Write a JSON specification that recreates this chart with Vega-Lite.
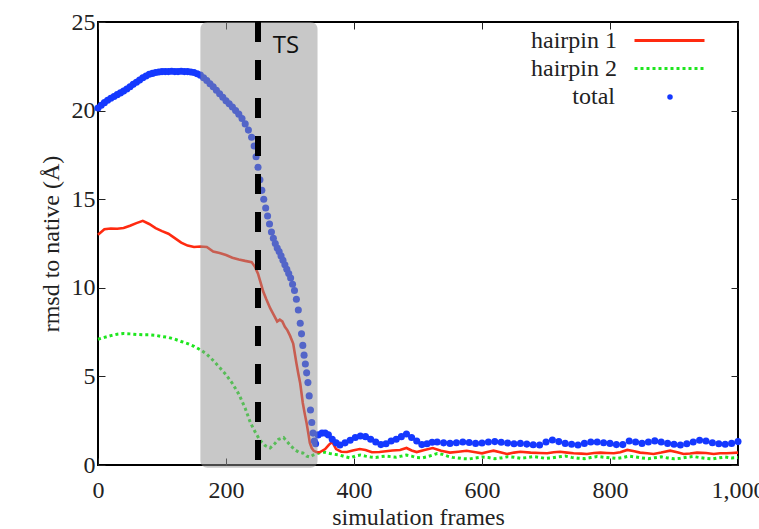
{
  "$schema": "https://vega.github.io/schema/vega-lite/v6.json",
  "width": 640,
  "height": 443,
  "autosize": {"type": "none"},
  "padding": {"left": 98, "top": 22, "right": 21, "bottom": 64},
  "background": "white",
  "config": {
    "view": {"stroke": "black", "strokeWidth": 2},
    "font": "Liberation Serif, Times New Roman, DejaVu Serif, serif",
    "axis": {
      "grid": false,
      "domain": false,
      "labelFont": "Liberation Serif, Times New Roman, DejaVu Serif, serif",
      "labelFontSize": 24,
      "labelColor": "#222222",
      "titleFont": "Liberation Serif, Times New Roman, DejaVu Serif, serif",
      "titleFontSize": 24,
      "titleFontWeight": "normal",
      "titleColor": "#222222",
      "tickColor": "#222222",
      "tickSize": -7,
      "tickWidth": 1
    },
    "legend": {
      "title": null,
      "orient": "none",
      "padding": 0,
      "labelFont": "Liberation Serif, Times New Roman, DejaVu Serif, serif",
      "labelFontSize": 24,
      "labelColor": "#222222",
      "labelAlign": "right"
    }
  },
  "datasets": {
    "h1": [
      {"f":0,"v":13.0},{"f":10,"v":13.3},{"f":20,"v":13.35},{"f":30,"v":13.33},{"f":40,"v":13.37},{"f":50,"v":13.5},{"f":60,"v":13.65},{"f":70,"v":13.78},{"f":80,"v":13.6},{"f":90,"v":13.37},{"f":100,"v":13.2},{"f":110,"v":13.05},{"f":120,"v":12.8},{"f":130,"v":12.55},{"f":140,"v":12.38},{"f":150,"v":12.3},{"f":160,"v":12.33},{"f":170,"v":12.3},{"f":180,"v":12.05},{"f":190,"v":11.96},{"f":200,"v":11.85},{"f":210,"v":11.7},{"f":220,"v":11.6},{"f":230,"v":11.52},{"f":240,"v":11.45},{"f":245,"v":11.2},{"f":250,"v":10.8},{"f":254,"v":10.3},{"f":258,"v":9.8},{"f":263,"v":9.35},{"f":269,"v":8.85},{"f":275,"v":8.45},{"f":280,"v":8.1},{"f":284,"v":8.2},{"f":288,"v":8.1},{"f":292,"v":7.8},{"f":296,"v":7.6},{"f":300,"v":7.3},{"f":305,"v":6.85},{"f":310,"v":5.75},{"f":313,"v":5.15},{"f":316,"v":4.6},{"f":320,"v":3.5},{"f":323,"v":2.9},{"f":326,"v":2.35},{"f":329,"v":1.7},{"f":331,"v":1.24},{"f":334,"v":0.95},{"f":337,"v":0.8},{"f":342,"v":0.72},{"f":347,"v":0.73},{"f":355,"v":0.9},{"f":361,"v":1.15},{"f":366,"v":1.3},{"f":372,"v":0.9},{"f":380,"v":0.75},{"f":389,"v":0.73},{"f":398,"v":0.82},{"f":409,"v":0.9},{"f":418,"v":0.85},{"f":428,"v":0.72},{"f":440,"v":0.73},{"f":450,"v":0.78},{"f":460,"v":0.82},{"f":472,"v":0.85},{"f":482,"v":0.96},{"f":490,"v":0.82},{"f":498,"v":0.73},{"f":510,"v":0.85},{"f":523,"v":0.96},{"f":536,"v":0.8},{"f":550,"v":0.7},{"f":563,"v":0.75},{"f":576,"v":0.8},{"f":590,"v":0.72},{"f":600,"v":0.66},{"f":610,"v":0.75},{"f":618,"v":0.81},{"f":630,"v":0.7},{"f":639,"v":0.62},{"f":650,"v":0.7},{"f":660,"v":0.75},{"f":676,"v":0.7},{"f":690,"v":0.68},{"f":702,"v":0.66},{"f":712,"v":0.72},{"f":722,"v":0.75},{"f":733,"v":0.7},{"f":743,"v":0.66},{"f":755,"v":0.64},{"f":764,"v":0.62},{"f":775,"v":0.68},{"f":785,"v":0.7},{"f":795,"v":0.68},{"f":806,"v":0.66},{"f":816,"v":0.72},{"f":827,"v":0.85},{"f":838,"v":0.78},{"f":847,"v":0.7},{"f":858,"v":0.66},{"f":868,"v":0.62},{"f":880,"v":0.7},{"f":894,"v":0.81},{"f":905,"v":0.72},{"f":915,"v":0.62},{"f":925,"v":0.65},{"f":936,"v":0.7},{"f":950,"v":0.68},{"f":962,"v":0.62},{"f":972,"v":0.66},{"f":982,"v":0.66},{"f":990,"v":0.68},{"f":1000,"v":0.7}
    ],
    "h2": [
      {"f":0,"v":7.1},{"f":10,"v":7.2},{"f":20,"v":7.3},{"f":30,"v":7.38},{"f":40,"v":7.42},{"f":50,"v":7.4},{"f":60,"v":7.37},{"f":70,"v":7.35},{"f":80,"v":7.35},{"f":90,"v":7.32},{"f":100,"v":7.25},{"f":110,"v":7.2},{"f":120,"v":7.1},{"f":130,"v":6.97},{"f":140,"v":6.85},{"f":150,"v":6.7},{"f":160,"v":6.5},{"f":170,"v":6.25},{"f":180,"v":5.9},{"f":190,"v":5.5},{"f":200,"v":5.1},{"f":210,"v":4.6},{"f":220,"v":4.0},{"f":230,"v":3.2},{"f":238,"v":2.4},{"f":245,"v":1.9},{"f":253,"v":1.4},{"f":261,"v":1.1},{"f":269,"v":0.96},{"f":276,"v":1.2},{"f":282,"v":1.45},{"f":290,"v":1.55},{"f":296,"v":1.3},{"f":302,"v":1.05},{"f":308,"v":0.85},{"f":314,"v":0.72},{"f":320,"v":0.68},{"f":326,"v":0.5},{"f":331,"v":0.45},{"f":336,"v":0.56},{"f":341,"v":0.62},{"f":347,"v":0.7},{"f":354,"v":0.72},{"f":362,"v":0.65},{"f":370,"v":0.6},{"f":378,"v":0.56},{"f":386,"v":0.47},{"f":394,"v":0.4},{"f":402,"v":0.5},{"f":410,"v":0.56},{"f":418,"v":0.5},{"f":426,"v":0.45},{"f":434,"v":0.42},{"f":442,"v":0.47},{"f":450,"v":0.5},{"f":458,"v":0.47},{"f":466,"v":0.44},{"f":474,"v":0.5},{"f":482,"v":0.56},{"f":490,"v":0.5},{"f":498,"v":0.42},{"f":506,"v":0.4},{"f":514,"v":0.46},{"f":522,"v":0.55},{"f":530,"v":0.65},{"f":538,"v":0.6},{"f":546,"v":0.5},{"f":554,"v":0.43},{"f":562,"v":0.4},{"f":570,"v":0.36},{"f":580,"v":0.34},{"f":590,"v":0.4},{"f":600,"v":0.45},{"f":610,"v":0.42},{"f":620,"v":0.36},{"f":630,"v":0.4},{"f":640,"v":0.47},{"f":650,"v":0.44},{"f":660,"v":0.38},{"f":670,"v":0.42},{"f":680,"v":0.48},{"f":690,"v":0.43},{"f":700,"v":0.37},{"f":710,"v":0.4},{"f":720,"v":0.46},{"f":730,"v":0.5},{"f":740,"v":0.43},{"f":750,"v":0.38},{"f":760,"v":0.36},{"f":770,"v":0.42},{"f":780,"v":0.48},{"f":790,"v":0.44},{"f":800,"v":0.4},{"f":810,"v":0.37},{"f":820,"v":0.42},{"f":830,"v":0.5},{"f":840,"v":0.45},{"f":850,"v":0.39},{"f":860,"v":0.36},{"f":870,"v":0.41},{"f":880,"v":0.46},{"f":890,"v":0.4},{"f":900,"v":0.35},{"f":910,"v":0.38},{"f":920,"v":0.44},{"f":930,"v":0.48},{"f":940,"v":0.42},{"f":950,"v":0.37},{"f":960,"v":0.34},{"f":970,"v":0.4},{"f":980,"v":0.45},{"f":990,"v":0.4},{"f":1000,"v":0.42}
    ],
    "tot": [
      {"f":0,"v":20.15},{"f":5,"v":20.3},{"f":10,"v":20.45},{"f":15,"v":20.58},{"f":20,"v":20.7},{"f":25,"v":20.8},{"f":30,"v":20.9},{"f":35,"v":21.0},{"f":40,"v":21.1},{"f":45,"v":21.22},{"f":50,"v":21.35},{"f":55,"v":21.48},{"f":60,"v":21.6},{"f":65,"v":21.72},{"f":70,"v":21.85},{"f":75,"v":21.95},{"f":80,"v":22.05},{"f":85,"v":22.1},{"f":90,"v":22.15},{"f":95,"v":22.18},{"f":100,"v":22.2},{"f":105,"v":22.2},{"f":110,"v":22.2},{"f":115,"v":22.22},{"f":120,"v":22.2},{"f":125,"v":22.2},{"f":130,"v":22.22},{"f":135,"v":22.2},{"f":140,"v":22.2},{"f":145,"v":22.18},{"f":150,"v":22.15},{"f":155,"v":22.08},{"f":160,"v":22.0},{"f":165,"v":21.85},{"f":170,"v":21.7},{"f":175,"v":21.52},{"f":180,"v":21.35},{"f":185,"v":21.15},{"f":190,"v":20.95},{"f":195,"v":20.75},{"f":200,"v":20.55},{"f":205,"v":20.38},{"f":210,"v":20.2},{"f":215,"v":20.0},{"f":220,"v":19.8},{"f":225,"v":19.55},{"f":230,"v":19.25},{"f":235,"v":18.9},{"f":240,"v":18.5},{"f":244,"v":18.0},{"f":247,"v":17.4},{"f":250,"v":16.8},{"f":253,"v":16.1},{"f":256,"v":15.5},{"f":259,"v":15.0},{"f":262,"v":14.5},{"f":265,"v":14.05},{"f":268,"v":13.6},{"f":271,"v":13.15},{"f":274,"v":12.8},{"f":277,"v":12.5},{"f":280,"v":12.25},{"f":283,"v":12.05},{"f":286,"v":11.8},{"f":289,"v":11.55},{"f":292,"v":11.3},{"f":295,"v":11.05},{"f":298,"v":10.8},{"f":301,"v":10.55},{"f":304,"v":10.2},{"f":307,"v":9.85},{"f":310,"v":9.35},{"f":313,"v":8.75},{"f":316,"v":8.0},{"f":318,"v":7.4},{"f":320,"v":6.75},{"f":322,"v":6.2},{"f":324,"v":5.7},{"f":326,"v":5.2},{"f":328,"v":4.65},{"f":330,"v":3.9},{"f":332,"v":3.1},{"f":334,"v":2.4},{"f":336,"v":1.8},{"f":338,"v":1.35},{"f":340,"v":1.2},{"f":344,"v":1.7},{"f":350,"v":1.8},{"f":355,"v":1.8},{"f":360,"v":1.7},{"f":366,"v":1.45},{"f":372,"v":1.25},{"f":378,"v":1.13},{"f":386,"v":1.25},{"f":394,"v":1.4},{"f":402,"v":1.55},{"f":410,"v":1.64},{"f":418,"v":1.6},{"f":426,"v":1.45},{"f":434,"v":1.3},{"f":442,"v":1.15},{"f":450,"v":1.2},{"f":458,"v":1.35},{"f":466,"v":1.45},{"f":474,"v":1.6},{"f":482,"v":1.75},{"f":490,"v":1.55},{"f":498,"v":1.35},{"f":506,"v":1.15},{"f":514,"v":1.2},{"f":522,"v":1.28},{"f":530,"v":1.3},{"f":540,"v":1.25},{"f":550,"v":1.22},{"f":560,"v":1.26},{"f":570,"v":1.3},{"f":580,"v":1.27},{"f":590,"v":1.22},{"f":600,"v":1.24},{"f":610,"v":1.3},{"f":620,"v":1.32},{"f":630,"v":1.28},{"f":640,"v":1.24},{"f":650,"v":1.2},{"f":660,"v":1.22},{"f":670,"v":1.18},{"f":680,"v":1.14},{"f":690,"v":1.13},{"f":700,"v":1.3},{"f":710,"v":1.41},{"f":720,"v":1.32},{"f":730,"v":1.22},{"f":740,"v":1.17},{"f":750,"v":1.13},{"f":760,"v":1.22},{"f":770,"v":1.3},{"f":780,"v":1.3},{"f":790,"v":1.26},{"f":800,"v":1.22},{"f":810,"v":1.15},{"f":820,"v":1.15},{"f":830,"v":1.35},{"f":840,"v":1.3},{"f":850,"v":1.22},{"f":860,"v":1.3},{"f":870,"v":1.36},{"f":880,"v":1.3},{"f":890,"v":1.22},{"f":900,"v":1.17},{"f":910,"v":1.13},{"f":920,"v":1.2},{"f":930,"v":1.3},{"f":940,"v":1.4},{"f":950,"v":1.35},{"f":960,"v":1.26},{"f":970,"v":1.2},{"f":980,"v":1.17},{"f":990,"v":1.22},{"f":1000,"v":1.32}
    ]
  },
  "layer": [
    {
      "data": {"name": "h2"},
      "mark": {"type": "line", "strokeWidth": 3},
      "encoding": {
        "x": {"field": "f", "type": "quantitative", "scale": {"domain": [0, 1000], "nice": false},
              "axis": {"orient": "bottom", "values": [0, 200, 400, 600, 800, 1000], "format": ",d", "title": "simulation frames", "labelPadding": 20, "titlePadding": 3, "labelFlush": false}},
        "y": {"field": "v", "type": "quantitative", "scale": {"domain": [0, 25], "nice": false},
              "axis": {"orient": "left", "values": [0, 5, 10, 15, 20, 25], "title": "rmsd to native (Å)", "labelPadding": 10, "titlePadding": 8, "labelFlush": false}},
        "stroke": {
          "datum": "hairpin 2", "type": "nominal",
          "scale": {"domain": ["hairpin 2"], "range": ["#1ee61e"]},
          "legend": {
            "legendX": 535,
            "legendY": 10,
            "labelOffset": -89,
            "symbolType": "stroke",
            "symbolSize": 4900,
            "symbolStrokeWidth": 3
          }
        },
        "strokeDash": {
          "datum": "hairpin 2", "type": "nominal",
          "scale": {"domain": ["hairpin 2"], "range": [[3, 3]]},
          "legend": {
            "legendX": 535,
            "legendY": 10,
            "labelOffset": -89,
            "symbolType": "stroke",
            "symbolSize": 4900,
            "symbolStrokeWidth": 3
          }
        }
      }
    },
    {
      "data": {"name": "h1"},
      "mark": {"type": "line", "strokeWidth": 2.6},
      "encoding": {
        "x": {"field": "f", "type": "quantitative", "axis": null},
        "y": {"field": "v", "type": "quantitative", "axis": null},
        "color": {
          "datum": "hairpin 1", "type": "nominal",
          "scale": {"domain": ["hairpin 1"], "range": ["#ff2a10"]},
          "legend": {
            "legendX": 535,
            "legendY": -18,
            "labelOffset": -89,
            "symbolType": "stroke",
            "symbolSize": 4900,
            "symbolStrokeWidth": 3
          }
        }
      }
    },
    {
      "data": {"name": "tot"},
      "mark": {"type": "point", "filled": true, "size": 50, "opacity": 1, "strokeWidth": 0},
      "encoding": {
        "x": {"field": "f", "type": "quantitative", "axis": null},
        "y": {"field": "v", "type": "quantitative", "axis": null},
        "fill": {
          "datum": "total", "type": "nominal",
          "scale": {"domain": ["total"], "range": ["#1438ff"]},
          "legend": {
            "legendX": 560,
            "legendY": 63,
            "labelOffset": -67,
            "symbolType": "circle",
            "symbolSize": 30,
            "symbolStrokeWidth": 0
          }
        }
      }
    },
    {
      "data": {"values": [{}]},
      "mark": {"type": "rect", "color": "#919191", "opacity": 0.5, "cornerRadius": 7},
      "encoding": {
        "x": {"datum": 160, "type": "quantitative", "axis": {"orient": "top", "values": [0, 200, 400, 600, 800, 1000], "labels": false, "title": null}},
        "x2": {"datum": 343},
        "y": {"datum": 25, "type": "quantitative", "axis": {"orient": "right", "values": [0, 5, 10, 15, 20, 25], "labels": false, "title": null}},
        "y2": {"datum": -0.15}
      }
    },
    {
      "data": {"values": [{}]},
      "mark": {"type": "rule", "strokeWidth": 6, "strokeDash": [20, 18], "color": "black"},
      "encoding": {
        "x": {"datum": 250, "type": "quantitative", "axis": null},
        "y": {"datum": 25, "type": "quantitative", "axis": null},
        "y2": {"datum": 0}
      }
    },
    {
      "data": {"values": [{}]},
      "mark": {"type": "text", "text": "TS", "font": "Open Sans", "fontSize": 24, "align": "left", "baseline": "middle", "color": "#111111"},
      "encoding": {
        "x": {"datum": 273, "type": "quantitative", "axis": null},
        "y": {"datum": 23.65, "type": "quantitative", "axis": null}
      }
    }
  ],
  "resolve": {"axis": {"x": "independent", "y": "independent"}}
}
